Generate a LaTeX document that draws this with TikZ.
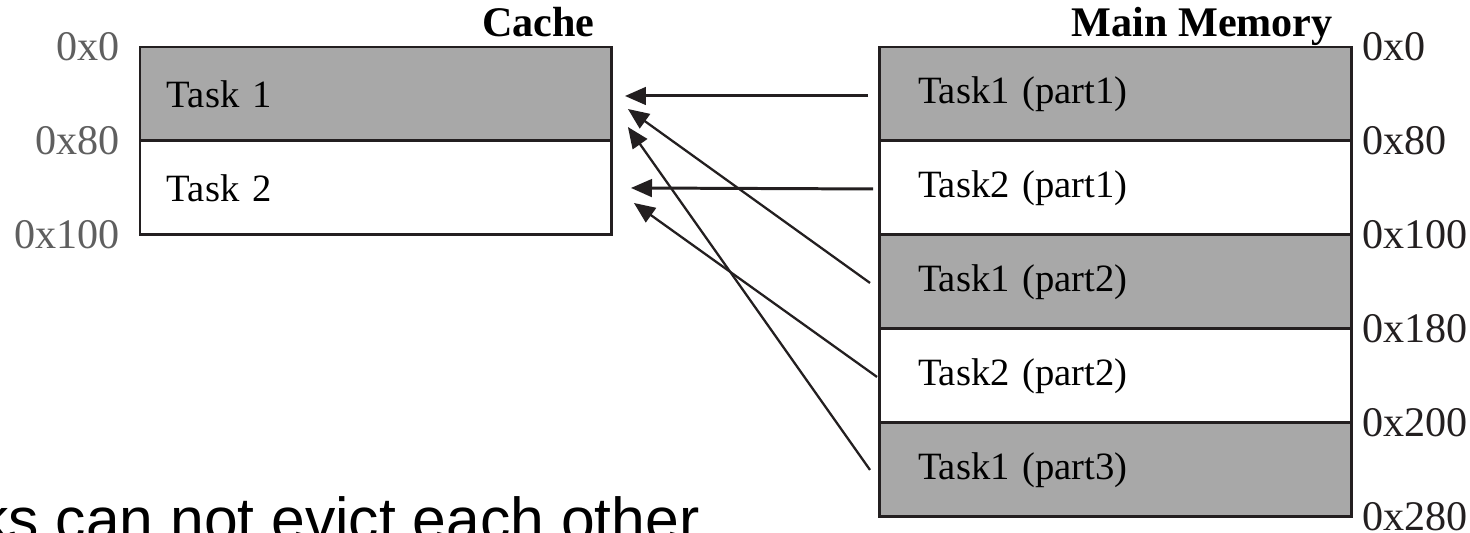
\documentclass[tikz,border=0pt]{standalone}
\usepackage{fontspec}
\setmainfont{Liberation Serif}
\setsansfont{Liberation Sans}
\usetikzlibrary{arrows.meta,positioning}
\definecolor{inkblack}{RGB}{35,31,32}
\definecolor{taskgray}{RGB}{168,168,168}
\definecolor{addrgray}{RGB}{95,95,95}

\begin{document}
\begin{tikzpicture}[x=0.02cm, y=-0.02cm, font=\fontsize{22}{26}\selectfont,
  cacherow/.style={draw=inkblack, line width=1.7pt, outer sep=0pt, minimum height=1.88cm,
    text width=8.36cm, inner xsep=0.54cm, align=left, anchor=north west},
  memrow/.style={draw=inkblack, line width=1.7pt, outer sep=0pt, minimum height=1.88cm,
    text width=7.9cm, inner xsep=0.78cm, align=left, anchor=north west},
  addr/.style={inner sep=0pt, text=inkblack, font=\fontsize{24}{28}\selectfont},
  head/.style={anchor=base east, font=\fontsize{24}{28}\selectfont\bfseries},
  fetch/.style={draw=inkblack, line width=1.3pt, -{Triangle[length=12pt,width=10pt]}}]
  \useasboundingbox (0,0) rectangle (1470,533);

  % cache, two lines
  \node[cacherow, fill=taskgray] (c1) at (140,47) {Task 1};
  \node[cacherow, below=0pt of c1] (c2) {Task 2};
  \node[head] (cachehead) at ([xshift=-0.22cm, yshift=0.2cm]c1.north east) {Cache};
  \node[addr, anchor=east, text=addrgray] (la0) at ([xshift=-0.4cm]c1.north west) {0x0};
  \node[addr, anchor=east, text=addrgray] (la80) at ([xshift=-0.4cm]c1.south west) {0x80};
  \node[addr, anchor=east, text=addrgray] (la100) at ([xshift=-0.4cm]c2.south west) {0x100};

  % main memory, five blocks
  \node[memrow, fill=taskgray] (m1) at (879,47) {Task1 (part1)};
  \node[memrow, below=0pt of m1] (m2) {Task2 (part1)};
  \node[memrow, fill=taskgray, below=0pt of m2] (m3) {Task1 (part2)};
  \node[memrow, below=0pt of m3] (m4) {Task2 (part2)};
  \node[memrow, fill=taskgray, below=0pt of m4] (m5) {Task1 (part3)};
  \node[head] (memhead) at ([xshift=-0.26cm, yshift=0.2cm]m1.north east) {Main Memory};
  \foreach \addr/\spot [count=\i] in {0x0/m1.north east, 0x80/m1.south east,
      0x100/m2.south east, 0x180/m3.south east, 0x200/m4.south east, 0x280/m5.south east}
    \node[addr, anchor=west] (ra\i) at ([xshift=0.2cm]\spot) {\addr};

  % mapping of memory blocks onto cache lines
  \draw[fetch, line width=1.7pt] ([xshift=-0.22cm, yshift=-0.04cm]m1.west)
    -- ([xshift=0.26cm, yshift=-0.04cm]c1.east);
  \draw[fetch, line width=1.7pt] ([xshift=-0.12cm, yshift=-0.02cm]m2.west)
    -- ([xshift=0.38cm]c2.east);
  \draw[fetch] ([xshift=-0.18cm, yshift=-0.02cm]m3.west)
    -- ([xshift=0.32cm, yshift=-0.3cm]c1.east);
  \draw[fetch] ([xshift=-0.04cm, yshift=-0.02cm]m4.west)
    -- ([xshift=0.44cm, yshift=-0.3cm]c2.east);
  \draw[fetch] ([xshift=-0.18cm]m5.west)
    -- ([xshift=0.32cm, yshift=-0.66cm]c1.east);

  \node[anchor=base west, inner sep=0pt, font=\sffamily\fontsize{34.5}{40}\selectfont] (note)
    at (-22,540) {ks can not evict each other};
\end{tikzpicture}
\end{document}
